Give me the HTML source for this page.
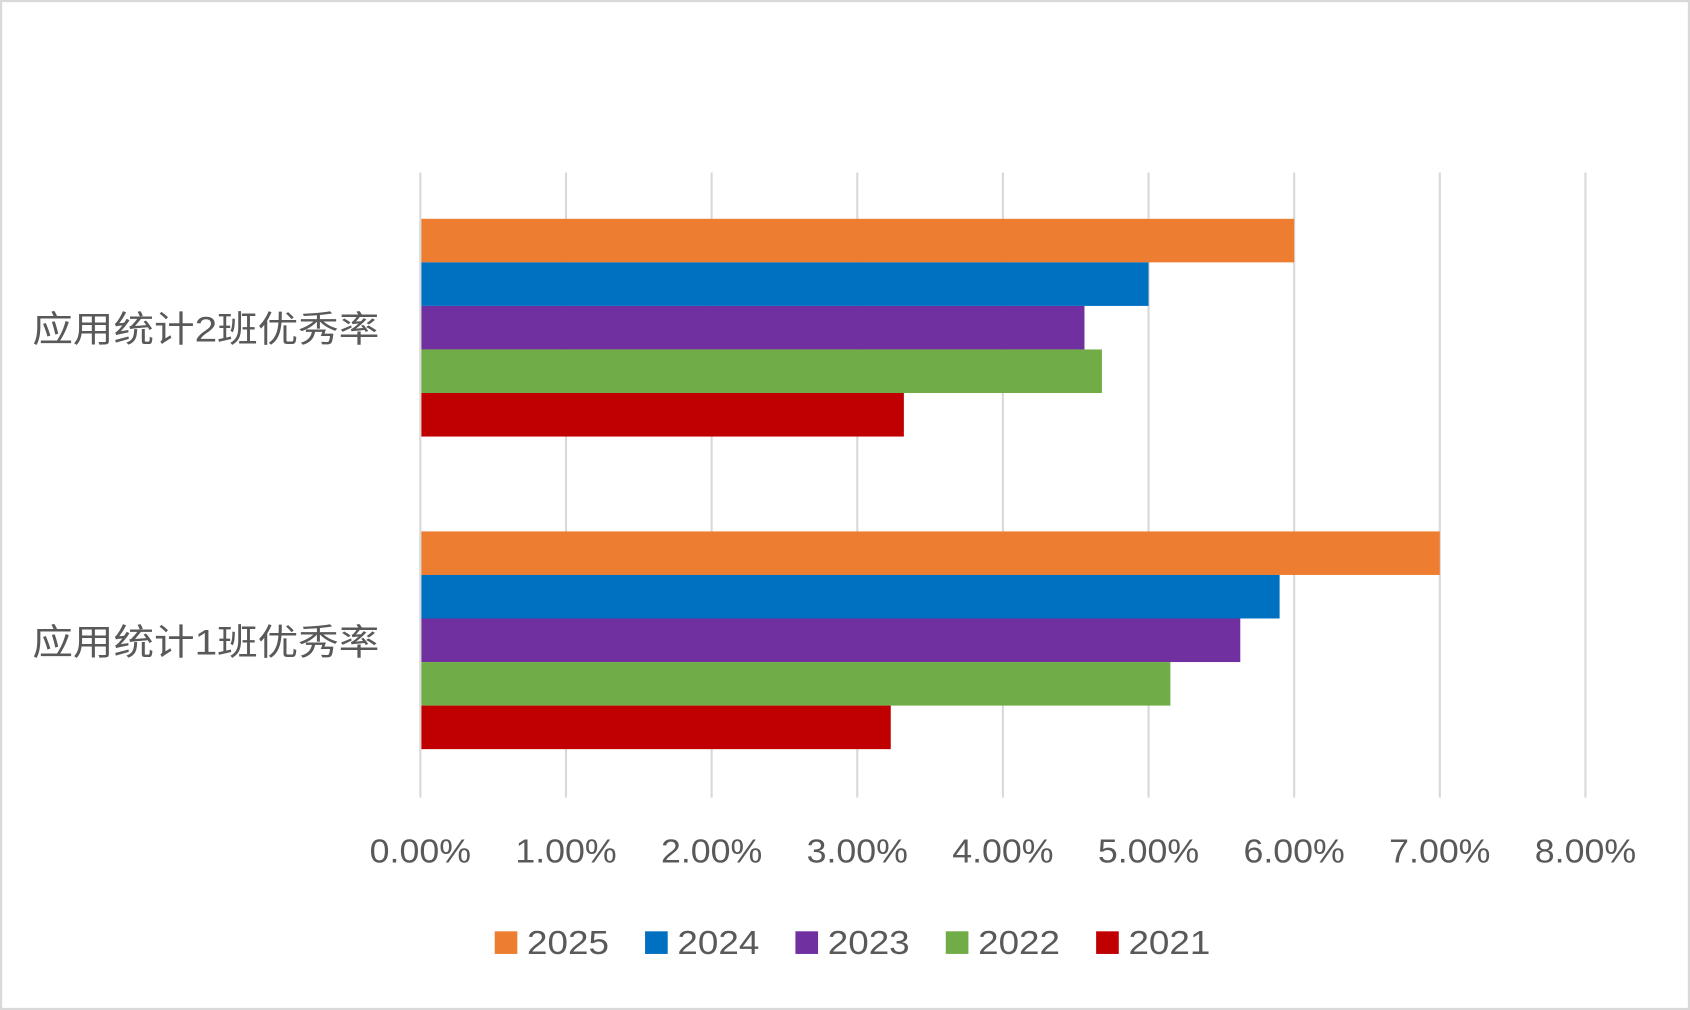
<!DOCTYPE html>
<html><head><meta charset="utf-8"><style>
html,body{margin:0;padding:0;background:#fff;}
svg{display:block;}
text{font-family:"Liberation Sans","Noto Sans CJK SC",sans-serif;fill:#595959;}
</style></head><body>
<svg id="chart" width="1690" height="1010" viewBox="0 0 1568 937" preserveAspectRatio="none" xmlns="http://www.w3.org/2000/svg">
<rect x="1" y="1" width="1566" height="935" fill="#fff" stroke="#d9d9d9" stroke-width="2"/>
<g id="grid"></g><g id="bars"></g><g id="labels"></g><g id="legend"></g>
</svg>
<script>
const categories = ["应用统计2班优秀率", "应用统计1班优秀率"];
const seriesNames = ["2025", "2024", "2023", "2022", "2021"];
const seriesColors = ["#ED7D31", "#0070C0", "#7030A0", "#70AD47", "#C00000"];
const values2025 = [6.00, 7.00];
const values2024 = [5.00, 5.90];
const values2023 = [4.56, 5.63];
const values2022 = [4.68, 5.15];
const values2021 = [3.32, 3.23];
const tickValues = [0,1,2,3,4,5,6,7,8];
const tickLabels = ["0.00%","1.00%","2.00%","3.00%","4.00%","5.00%","6.00%","7.00%","8.00%"];

const NS = "http://www.w3.org/2000/svg";
const x0 = 390, x1 = 1471, xMax = 8;
const xScale = v => x0 + (v / xMax) * (x1 - x0);
const plotTop = 160, plotBottom = 740;
const groupTops = [203, 493];
const barH = 40.4;
const allSeries = [values2025, values2024, values2023, values2022, values2021];
function mk(tag, attrs, parent){const e=document.createElementNS(NS,tag);for(const k in attrs)e.setAttribute(k,attrs[k]);parent.appendChild(e);return e;}
const grid=document.getElementById('grid'), bars=document.getElementById('bars'), labels=document.getElementById('labels'), legend=document.getElementById('legend');
tickValues.forEach((t,i)=>{
  const l=mk('line',{x1:xScale(t),x2:xScale(t),y1:plotTop,y2:plotBottom,stroke:'#d9d9d9','stroke-width':2},grid);
  
  
  const tx=mk('text',{x:xScale(t),y:800,'text-anchor':'middle','font-size':31,textLength:94,lengthAdjust:'spacingAndGlyphs'},labels);
  tx.textContent=tickLabels[i];
  
  
});
categories.forEach((c,ci)=>{
  allSeries.forEach((vals,si)=>{
    const r=mk('rect',{x:x0+1,y:groupTops[ci]+si*barH,width:xScale(vals[ci])-x0-1,height:barH,fill:seriesColors[si]},bars);
    
    
  });
  const t=mk('text',{x:352,y:groupTops[ci]+2.5*barH+13,'text-anchor':'end','font-size':33,textLength:322,lengthAdjust:'spacingAndGlyphs'},labels);
  t.textContent=c;
  
  
});
seriesNames.forEach((s,i)=>{
  const lx=459+i*139.5;
  const r=mk('rect',{x:lx,y:864,width:21,height:21,fill:seriesColors[i]},legend);
  
  
  const t=mk('text',{x:lx+30,y:885,'font-size':31,textLength:76,lengthAdjust:'spacingAndGlyphs'},legend);
  t.textContent=s;
  
  
});
</script>
</body></html>
